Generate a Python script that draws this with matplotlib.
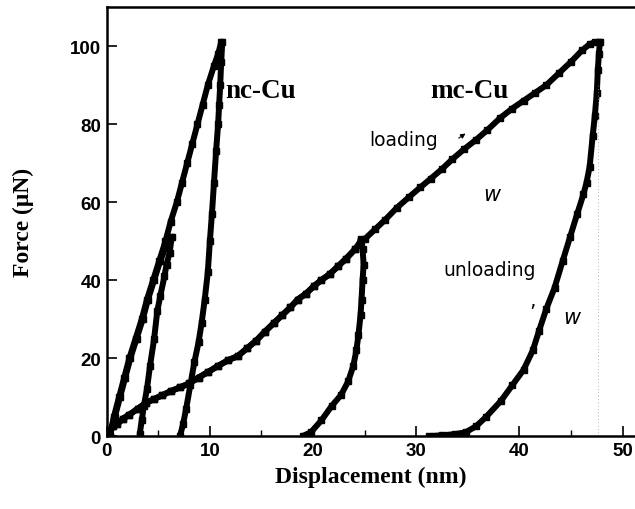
import numpy as np
import matplotlib.pyplot as plt
from matplotlib.ticker import MultipleLocator

# nc-Cu, 100 uN indent (loading / unloading)
nc100_load_x = [0.3, 0.7, 1.2, 1.7, 2.2, 2.8, 3.4, 3.9, 4.5, 5.1, 5.7, 6.2, 6.8, 7.3, 7.8, 8.3, 8.8, 9.3, 9.8, 10.4, 10.8, 11.1]
nc100_load_y = [0, 5, 10, 15, 20, 25, 30, 35, 40, 45, 50, 55, 60, 65, 70, 75, 80, 85, 90, 95, 98, 101]
nc100_unl_x = [11.2, 11.1, 11.0, 10.9, 10.8, 10.6, 10.4, 10.2, 10.0, 9.8, 9.5, 9.2, 8.9, 8.5, 8.1, 7.7, 7.4, 7.1]
nc100_unl_y = [101, 96, 90, 85, 80, 73, 65, 57, 50, 42, 35, 29, 24, 19, 13, 7, 3, 0]

# nc-Cu, 50 uN indent
nc50_load_x = [0.3, 0.8, 1.3, 1.8, 2.3, 2.9, 3.5, 4.0, 4.6, 5.2, 5.8, 6.2]
nc50_load_y = [0, 5, 10, 15, 20, 25, 30, 35, 40, 45, 49, 51]
nc50_unl_x = [6.3, 6.1, 5.8, 5.6, 5.2, 4.9, 4.6, 4.2, 3.9, 3.6, 3.4, 3.2]
nc50_unl_y = [51, 47, 44, 41, 36, 32, 25, 18, 12, 7.7, 4, 0.5]

# mc-Cu, 100 uN indent
mc100_load_x = [0.2, 0.6, 1.0, 1.6, 2.2, 3.0, 3.8, 4.6, 5.4, 6.2, 7.1, 8.0, 8.9, 9.8, 10.8, 11.8, 12.7,
                13.6, 14.5, 15.3, 16.2, 17.0, 17.8, 18.5, 19.3, 20.1, 20.8, 21.6, 22.4, 23.2, 24.1, 25.0,
                26.0, 27.0, 28.1, 29.3, 30.4, 31.4, 32.5, 33.5, 34.6, 35.8, 36.9, 38.1, 39.3, 40.4, 41.5,
                42.6, 43.8, 45.0, 46.1, 46.8, 47.3, 47.7]
mc100_load_y = [1, 2.5, 3, 4.5, 5.5, 7, 8.5, 9.5, 10.5, 11.5, 12.5, 13.5, 15, 16.4, 18, 19.5, 20.5,
                22.5, 24.5, 26.7, 29, 31, 33, 35, 36.5, 38.5, 40, 41.5, 43.5, 45.5, 48, 50.5,
                53, 55.5, 58.5, 61.3, 63.8, 66, 68.5, 71, 73.5, 76, 78.5, 81.5, 84, 86, 88,
                90, 93, 96, 99, 100.5, 101, 101]
mc100_unl_x = [47.8, 47.7, 47.6, 47.5, 47.3, 47.1, 46.8, 46.5, 46.2, 45.6, 44.9, 44.2, 43.4, 42.6,
               41.9, 41.3, 40.4, 39.3, 38.2, 36.8, 35.8, 34.8, 33.8, 32.5, 31.2]
mc100_unl_y = [101, 98, 94, 88, 82, 77, 69, 65, 62, 57, 51, 45, 38, 32.6,
               27, 22, 17, 13, 9, 5, 2.5, 1, 0.5, 0.2, 0]

# mc-Cu, 50 uN indent
mc50_load_x = [0.2, 0.6, 1.0, 1.6, 2.2, 3.0, 3.8, 4.6, 5.4, 6.2, 7.1, 8.0, 8.9, 9.8, 10.8, 11.8, 12.7,
               13.6, 14.5, 15.3, 16.2, 17.0, 17.8, 18.5, 19.3, 20.1, 20.8, 21.6, 22.4, 23.2, 24.1, 24.6]
mc50_load_y = [1, 2.5, 3, 4.5, 5.5, 7, 8.5, 9.5, 10.5, 11.5, 12.5, 13.5, 15, 16.4, 18, 19.5, 20.5,
               22.5, 24.5, 26.7, 29, 31, 33, 35, 36.5, 38.5, 40, 41.5, 43.5, 45.5, 48, 50]
mc50_unl_x = [24.6, 24.8, 24.9, 24.8, 24.7, 24.6, 24.4, 24.2, 23.9, 23.4, 22.7, 21.8, 20.8, 19.8, 19.0]
mc50_unl_y = [50.5, 48, 44, 40, 35, 31, 26, 22, 18, 14, 10.5, 7.7, 4, 1, 0]

fig = plt.figure(figsize=(6.35, 5.10), dpi=100)
ax = fig.add_axes([0.168, 0.143, 0.832, 0.841])

for xs, ys in [(nc100_load_x, nc100_load_y), (nc100_unl_x, nc100_unl_y),
               (nc50_load_x, nc50_load_y), (nc50_unl_x, nc50_unl_y),
               (mc100_load_x, mc100_load_y), (mc100_unl_x, mc100_unl_y),
               (mc50_load_x, mc50_load_y), (mc50_unl_x, mc50_unl_y)]:
    ax.plot(xs, ys, color='black', lw=4.3, marker='s', ms=4, solid_capstyle='round')

# faint guide line at max depth
ax.plot([47.6, 47.6], [0, 90], color='0.6', lw=0.6, ls=(0, (1, 3)))

ax.set_xlim(0, 51.2)
ax.set_ylim(0, 110)
ax.xaxis.set_major_locator(MultipleLocator(10))
ax.xaxis.set_minor_locator(MultipleLocator(5))
ax.yaxis.set_major_locator(MultipleLocator(20))
ax.tick_params(direction='in', length=7, width=1.2, labelsize=13.5, pad=4)
ax.tick_params(which='minor', direction='in', length=4, width=1.0)
for lab in ax.get_xticklabels() + ax.get_yticklabels():
    lab.set_fontweight('bold')
    lab.set_family('Liberation Sans')
for s in ['left', 'bottom', 'top']:
    ax.spines[s].set_linewidth(1.8)
ax.spines['right'].set_visible(False)

ax.set_xlabel('Displacement (nm)', family='Liberation Serif', fontweight='bold', fontsize=17, labelpad=5)
ax.set_ylabel('Force (\u03bcN)', family='Liberation Serif', fontweight='bold', fontsize=17, labelpad=26)

ax.text(11.5, 88.5, 'nc-Cu', family='Liberation Serif', fontweight='bold', fontsize=19.5, ha='left', va='center')
ax.text(31.4, 88.5, 'mc-Cu', family='Liberation Serif', fontweight='bold', fontsize=19.5, ha='left', va='center')
ax.text(28.8, 76, 'loading', family='DejaVu Sans', fontsize=13.5, ha='center', va='center')
ax.annotate('', xy=(35.0, 78.0), xytext=(33.9, 76.0),
            arrowprops=dict(arrowstyle='-|>', lw=0.8, color='black', mutation_scale=7))
ax.text(37.3, 62, 'w', family='DejaVu Sans', style='italic', fontsize=15, ha='center', va='center')
ax.text(37.1, 42.8, 'unloading', family='DejaVu Sans', fontsize=13.5, ha='center', va='center')
ax.text(41.3, 32, '\u2019', family='DejaVu Sans', fontsize=14, ha='center', va='center')
ax.text(45.1, 30.5, 'w', family='DejaVu Sans', style='italic', fontsize=15, ha='center', va='center')

plt.savefig('out.png', dpi=100)
